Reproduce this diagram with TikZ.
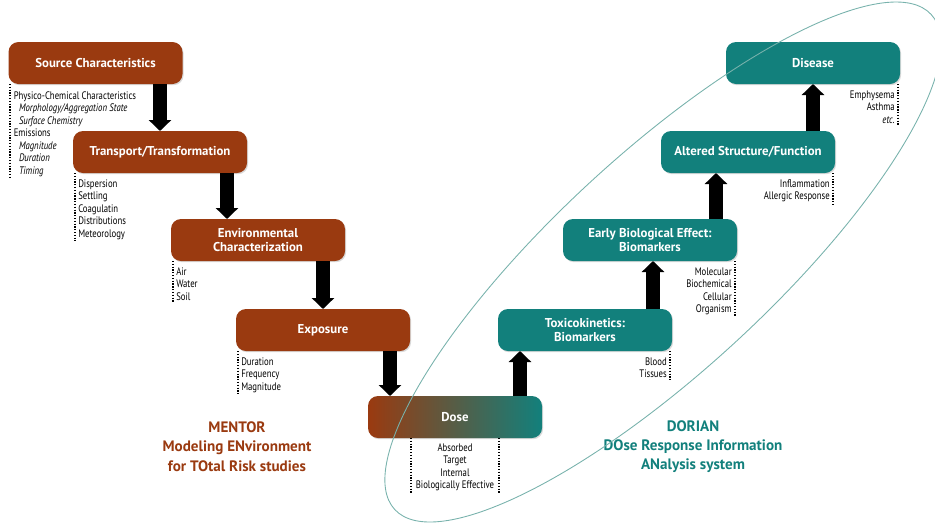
\documentclass[tikz,border=0pt]{standalone}
\usepackage{fontspec}
\setmainfont{PT Sans}
\newfontfamily\narrowfont[FakeStretch=0.8]{PT Sans}
\usetikzlibrary{arrows.meta,shadows}
\definecolor{mentorcol}{RGB}{154,58,16}
\definecolor{doriancol}{RGB}{18,128,124}
\definecolor{ringcol}{RGB}{120,178,172}
\tikzstyle{every node}=[inner sep=0, outer sep=0]
\tikzstyle{stage}=[rounded corners=0.2cm, minimum width=3.48cm, minimum height=0.84cm, text=white, align=center, font=\bfseries\fontsize{7.3}{7.6}\selectfont, drop shadow={opacity=0.3, shadow xshift=0.6pt, shadow yshift=-0.7pt}]
\tikzstyle{mstage}=[stage, fill=mentorcol]
\tikzstyle{dstage}=[stage, fill=doriancol]
\tikzstyle{items}=[inner sep=1pt, font=\narrowfont\fontsize{6.2}{7.1}\selectfont]
\tikzstyle{dotline}=[line width=0.9pt, dash pattern=on 0.7pt off 0.9pt]
\tikzstyle{bigarrow}=[line width=0.28cm, -{Triangle[width=0.44cm,length=0.22cm]}]
\tikzstyle{system}=[align=center, font=\bfseries\fontsize{8.6}{11}\selectfont]

\begin{document}
\begin{tikzpicture}
		\useasboundingbox (0,0) rectangle (18.7,-10.56);
		\coordinate[] (a1) at (3.2,0);
		\coordinate[] (a2) at (4.54,0);
		\coordinate[] (a3) at (6.46,0);
		\coordinate[] (a4) at (7.8,0);
		\coordinate[] (a5) at (10.4,0);
		\coordinate[] (a6) at (13.06,0);
		\coordinate[] (a7) at (14.32,0);
		\coordinate[] (a8) at (16.26,0);
		\coordinate[] (ring) at (13.26,-5.24);
		\node[mstage] (src) at (1.91,-1.26) {Source Characteristics};
		\node[mstage] (trn) at (3.2,-3.04) {Transport/Transformation};
		\node[mstage] (env) at (5.16,-4.8) {Environmental\\Characterization};
		\node[mstage] (expo) at (6.46,-6.6) {Exposure};
		\node[stage, left color=mentorcol, right color=doriancol] (dose) at (9.1,-8.34) {Dose};
		\node[dstage] (tox) at (11.7,-6.6) {Toxicokinetics:\\Biomarkers};
		\node[dstage] (ebe) at (13.0,-4.8) {Early Biological Effect:\\Biomarkers};
		\node[dstage] (asf) at (14.96,-3.04) {Altered Structure/Function};
		\node[dstage] (dis) at (16.26,-1.26) {Disease};
		\node[items, anchor=north west, align=left] (srcL) at ([xshift=0.07cm,yshift=-0.12cm]src.south west) {Physico-Chemical Characteristics\\\hspace{3pt}{\itshape Morphology/Aggregation State}\\\hspace{3pt}{\itshape Surface Chemistry}\\Emissions\\\hspace{3pt}{\itshape Magnitude}\\\hspace{3pt}{\itshape Duration}\\\hspace{3pt}{\itshape Timing}};
		\node[items, anchor=north west, align=left] (trnL) at ([xshift=0.07cm,yshift=-0.1cm]trn.south west) {Dispersion\\Settling\\Coagulatin\\Distributions\\Meteorology};
		\node[items, anchor=north west, align=left] (envL) at ([xshift=0.07cm,yshift=-0.1cm]env.south west) {Air\\Water\\Soil};
		\node[items, anchor=north west, align=left] (expoL) at ([xshift=0.07cm,yshift=-0.1cm]expo.south west) {Duration\\Frequency\\Magnitude};
		\node[items, anchor=north, align=center, minimum width=1.76cm] (doseL) at ([yshift=-0.08cm]dose.south) {Absorbed\\Target\\Internal\\Biologically Effective};
		\node[items, anchor=north east, align=right] (toxL) at ([xshift=-0.07cm,yshift=-0.1cm]tox.south east) {Blood\\Tissues};
		\node[items, anchor=north east, align=right] (ebeL) at ([xshift=-0.07cm,yshift=-0.1cm]ebe.south east) {Molecular\\Biochemical\\Cellular\\Organism};
		\node[items, anchor=north east, align=right] (asfL) at ([xshift=-0.07cm,yshift=-0.1cm]asf.south east) {Inflammation\\Allergic Response};
		\node[items, anchor=north east, align=right] (disL) at ([xshift=-0.07cm,yshift=-0.1cm]dis.south east) {Emphysema\\Asthma\\{\itshape etc.}};
		\node[system, text=mentorcol] (mentor) at (4.74,-8.93) {MENTOR\\Modeling ENvironment\\for TOtal Risk studies};
		\node[system, text=doriancol] (dorian) at (13.86,-8.93) {DORIAN\\DOse Response Information\\ANalysis system};
		\draw[bigarrow] (src.south -| a1) -- (trn.north -| a1);
		\draw[bigarrow] (trn.south -| a2) -- (env.north -| a2);
		\draw[bigarrow] (env.south -| a3) -- (expo.north -| a3);
		\draw[bigarrow] (expo.south -| a4) -- (dose.north -| a4);
		\draw[bigarrow] (dose.north -| a5) -- (tox.south -| a5);
		\draw[bigarrow] (tox.north -| a6) -- (ebe.south -| a6);
		\draw[bigarrow] (ebe.north -| a7) -- (asf.south -| a7);
		\draw[bigarrow] (asf.north -| a8) -- (dis.south -| a8);
		\draw[dotline] ([xshift=1pt]src.south west) -- ([xshift=1pt]src.south west |- srcL.south);
		\draw[dotline] ([xshift=1pt]trn.south west) -- ([xshift=1pt]trn.south west |- trnL.south);
		\draw[dotline] ([xshift=1pt]env.south west) -- ([xshift=1pt]env.south west |- envL.south);
		\draw[dotline] ([xshift=1pt]expo.south west) -- ([xshift=1pt]expo.south west |- expoL.south);
		\draw[dotline] (dose.south -| doseL.west) -- (doseL.south west);
		\draw[dotline] (dose.south -| doseL.east) -- (doseL.south east);
		\draw[dotline] ([xshift=-1pt]tox.south east) -- ([xshift=-1pt]tox.south east |- toxL.south);
		\draw[dotline] ([xshift=-1pt]ebe.south east) -- ([xshift=-1pt]ebe.south east |- ebeL.south);
		\draw[dotline] ([xshift=-1pt]asf.south east) -- ([xshift=-1pt]asf.south east |- asfL.south);
		\draw[dotline] ([xshift=-1pt]dis.south east) -- ([xshift=-1pt]dis.south east |- disL.south);
		\draw[ringcol, line width=0.5pt, rotate around={42.7:(ring)}] (ring) ellipse (7.3 and 2.16);
	\end{tikzpicture}
\end{document}
